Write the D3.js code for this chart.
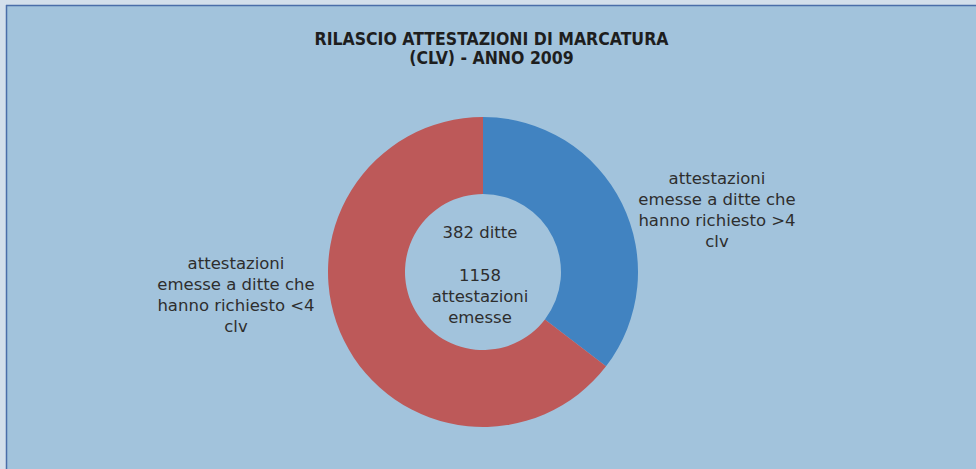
<!DOCTYPE html>
<html>
<head>
<meta charset="utf-8">
<script src="https://cdn.jsdelivr.net/npm/d3@7"></script>
<style>
  html, body { margin: 0; padding: 0; background: #d3dfeb; }
  svg { display: block; }
</style>
</head>
<body>
<svg id="chart" width="976" height="469"></svg>
<script>
// Certificates issued in 2009, split by number of CLV requested
const categories = [
  "attestazioni emesse a ditte che hanno richiesto >4 clv",
  "attestazioni emesse a ditte che hanno richiesto <4 clv"
];
const values = [410, 748];
const colors = ["#4183c1", "#bd5959"];
const labelLines = [
  ["attestazioni", "emesse a ditte che", "hanno richiesto >4", "clv"],
  ["attestazioni", "emesse a ditte che", "hanno richiesto <4", "clv"]
];
const titleLines = ["RILASCIO ATTESTAZIONI DI MARCATURA", "(CLV) - ANNO 2009"];
const centerLines = ["382 ditte", "", "1158", "attestazioni", "emesse"];

const svg = d3.select("#chart");
const W = 976, H = 469;
const bodyFont = "'DejaVu Sans', sans-serif";

// panel background and frame
svg.append("rect").attr("x", 6).attr("y", 5).attr("width", W - 6).attr("height", H - 5)
  .attr("fill", "#a2c3dc");
svg.append("line").attr("x1", 6).attr("x2", W).attr("y1", 5.5).attr("y2", 5.5)
  .attr("stroke", "#4a6ea9").attr("stroke-width", 1.5);
svg.append("line").attr("x1", 6.5).attr("x2", 6.5).attr("y1", 5).attr("y2", H)
  .attr("stroke", "#4a6ea9").attr("stroke-width", 1.5);

// title
svg.append("text")
  .attr("text-anchor", "middle")
  .attr("font-family", "'DejaVu Sans Condensed', 'DejaVu Sans', sans-serif")
  .attr("font-weight", "bold")
  .attr("font-size", 17.5)
  .attr("fill", "#1e1e1e")
  .selectAll("tspan").data(titleLines).join("tspan")
  .attr("x", 491.5)
  .attr("y", (d, i) => 45 + i * 19)
  .text(d => d);

// donut
const cx = 483, cy = 272, rOuter = 155, rInner = 78;
const pie = d3.pie().sort(null).value(d => d)(values);
const arc = d3.arc().innerRadius(rInner).outerRadius(rOuter);
const g = svg.append("g").attr("transform", `translate(${cx},${cy})`);
g.selectAll("path").data(pie).join("path")
  .attr("d", arc)
  .attr("fill", (d, i) => colors[i]);

// text inside the hole
g.append("text")
  .attr("text-anchor", "middle")
  .attr("font-family", bodyFont)
  .attr("font-size", 16.5)
  .attr("fill", "#2e2e2e")
  .selectAll("tspan").data(centerLines).join("tspan")
  .attr("x", -3)
  .attr("y", (d, i) => [-34, 0, 9, 30, 51][i])
  .text(d => d);

// category labels
const labelPos = [[717, 184], [236, 269]];
labelLines.forEach((lines, k) => {
  svg.append("text")
    .attr("text-anchor", "middle")
    .attr("font-family", bodyFont)
    .attr("font-size", 16.5)
    .attr("fill", "#2e2e2e")
    .selectAll("tspan").data(lines).join("tspan")
    .attr("x", labelPos[k][0])
    .attr("y", (d, i) => labelPos[k][1] + i * 21)
    .text(d => d);
});
</script>
</body>
</html>
